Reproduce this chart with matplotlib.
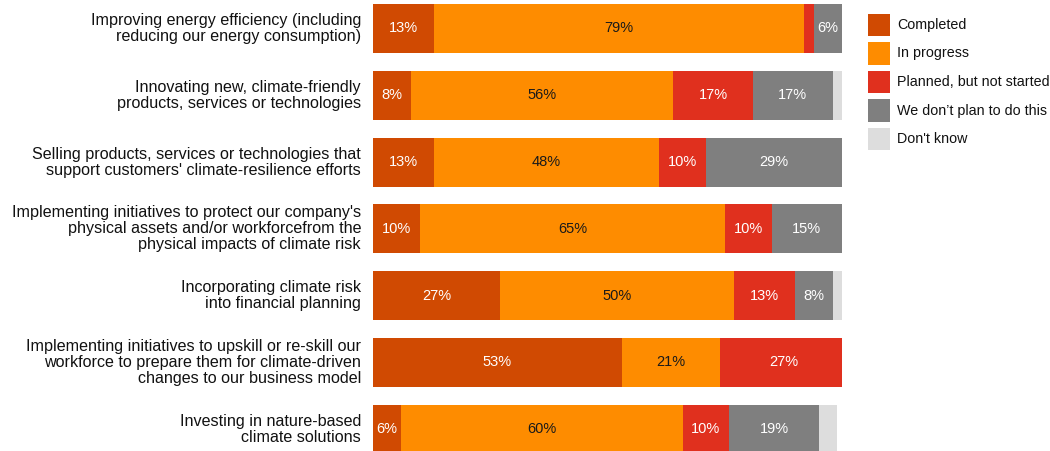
import matplotlib
matplotlib.use("Agg")
import matplotlib.pyplot as plt
from matplotlib.patches import Rectangle

plt.rcParams['font.family'] = ['Liberation Sans', 'DejaVu Sans']

categories = [
    "Improving energy efficiency (including\nreducing our energy consumption)",
    "Innovating new, climate-friendly\nproducts, services or technologies",
    "Selling products, services or technologies that\nsupport customers' climate-resilience efforts",
    "Implementing initiatives to protect our company's\nphysical assets and/or workforcefrom the\nphysical impacts of climate risk",
    "Incorporating climate risk\ninto financial planning",
    "Implementing initiatives to upskill or re-skill our\nworkforce to prepare them for climate-driven\nchanges to our business model",
    "Investing in nature-based\nclimate solutions",
]

series_names = ["Completed", "In progress", "Planned, but not started",
                "We don\u2019t plan to do this", "Don't know"]
completed   = [13,  8, 13, 10, 27, 53,  6]
in_progress = [79, 56, 48, 65, 50, 21, 60]
planned     = [ 2, 17, 10, 10, 13, 27, 10]
no_plan     = [ 6, 17, 29, 15,  8,  0, 19]
dont_know   = [ 0,  2,  0,  0,  2,  0,  4]

colors = ["#D04A02", "#FE8C00", "#E0301E", "#7F7F7F", "#DDDDDD"]
text_colors = ["white", "#1a1a1a", "white", "white", "#1a1a1a"]

W, H = 1050, 451
fig = plt.figure(figsize=(W / 100, H / 100), dpi=100)

# axes geometry in pixels
x0, x1 = 373, 842
row_top, pitch, bar_h = 4, 66.8, 49
half = bar_h / pitch / 2
top_px = row_top
bot_px = row_top + 6 * pitch + bar_h
ax = fig.add_axes([x0 / W, 1 - bot_px / H, (x1 - x0) / W, (bot_px - top_px) / H])
ax.set_xlim(0, 100)
ax.set_ylim(6 + half, -half)
ax.axis("off")

data = [completed, in_progress, planned, no_plan, dont_know]
ys = list(range(len(categories)))
left = [0] * len(categories)
for vals, col, tcol in zip(data, colors, text_colors):
    ax.barh(ys, vals, left=left, height=bar_h / pitch, color=col, linewidth=0)
    for y, v, l in zip(ys, vals, left):
        if v >= 5:
            ax.text(l + v / 2, y, f"{v}%", ha="center", va="center",
                    color=tcol, fontsize=10.5)
    left = [a + b for a, b in zip(left, vals)]

for y, cat in zip(ys, categories):
    ax.text(-12 / (x1 - x0) * 100, y, cat, ha="right", va="center",
            fontsize=11.6, color="#111111", linespacing=1.09,
            transform=ax.transData, clip_on=False)

# legend
leg_x, leg_y0, leg_pitch, sq = 868, 14, 28.5, 22
for i, (name, col) in enumerate(zip(series_names, colors)):
    yt = leg_y0 + i * leg_pitch
    fig.add_artist(Rectangle((leg_x / W, 1 - (yt + sq) / H), sq / W, sq / H,
                             transform=fig.transFigure, facecolor=col,
                             linewidth=0))
    fig.text(897 / W, 1 - (yt + sq / 2) / H, name, ha="left", va="center",
             fontsize=10.3, color="#111111")

fig.savefig("out.png", dpi=100)
